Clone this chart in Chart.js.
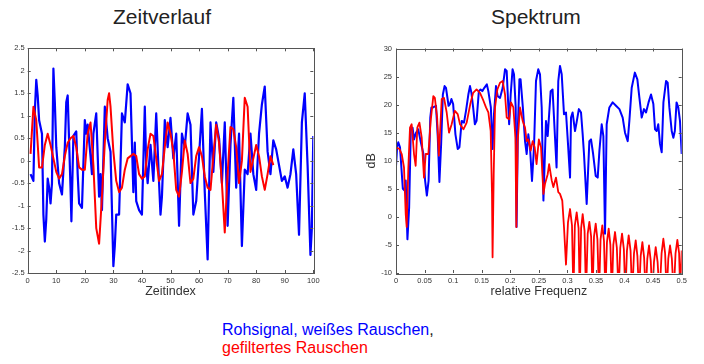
<!DOCTYPE html>
<html lang="de">
<head>
  <meta charset="UTF-8">
  <title>Zeitverlauf und Spektrum</title>
  <script src="https://cdn.jsdelivr.net/npm/chart.js@4"></script>
  <style>
    body { margin: 0; width: 704px; height: 364px; background: #fff; position: relative; overflow: hidden;
           font-family: "Liberation Sans", Arial, sans-serif; }
    .title { position: absolute; font-size: 21px; line-height: 24px; color: #222; white-space: nowrap; }
    #cv1 { position: absolute; left: 0; top: 40px; }
    #cv2 { position: absolute; left: 340px; top: 40px; }
    #caption { position: absolute; left: 222px; top: 321px; font-size: 16px; line-height: 18px; white-space: nowrap; }
    .blue { color: #0000ff; }
    .red { color: #ff0000; }
  </style>
</head>
<body>
  <div class="title" style="left:113px; top:5px;">Zeitverlauf</div>
  <div class="title" style="left:491px; top:5px;">Spektrum</div>
  <canvas id="cv1" width="330" height="270"></canvas>
  <canvas id="cv2" width="364" height="270"></canvas>
  <div id="caption">
    <span class="blue">Rohsignal, weißes Rauschen</span><span style="color:#222">,</span><br>
    <span class="red">gefiltertes Rauschen</span>
  </div>
  <script>
    // Zeitverlauf: [Zeitindex, Wert]
    const timeRaw = [[1,-0.3],[2,-0.45],[2.5,1.1],[3,1.8],[3.5,1.45],[4,0.9],[5,0.6],[5.5,-1.2],[6,-1.8],[6.5,-1.3],
      [7,-0.4],[7.5,-0.6],[8,-0.95],[8.5,-0.5],[9,2.05],[9.5,1.3],[10,0.3],[11,-0.5],[12,-0.75],[13,0.3],
      [13.5,1.3],[14,1.45],[15,-0.6],[15.3,-1.35],[16,0.55],[17,0.65],[17.5,-0.3],[18,-0.95],[19,-1.05],[20,0.9],
      [20.5,0.6],[21,0.8],[22,0.1],[22.5,-0.3],[23,0.6],[24,1.05],[25,-0.8],[25.5,-0.3],[26,-1.1],[27,1.2],
      [28,0.5],[29,0.2],[30,-2.35],[30.5,-1.9],[31,-1.2],[32,-1.2],[33,1.05],[34,0.85],[35,1.7],[36,1.5],
      [37,-0.7],[37.5,0.4],[38,-0.9],[39,-1.1],[40,-1.2],[41,1.2],[41.5,-0.1],[42,-0.5],[43,0.35],[44,-0.45],
      [45,1.05],[46,-0.5],[46.5,-1.2],[47,-0.8],[48,0.9],[49,0.3],[50,0.95],[51,0.05],[52,0.6],[53,-1.45],
      [54,0.6],[55,0.3],[56,1.05],[57,0.8],[58,-1.2],[59,-0.9],[60,0.1],[61,1.15],[62,-0.7],[63,-2.2],
      [64,0.85],[65,-0.25],[66,0.85],[67,0.5],[68,-0.5],[69,0.85],[70,-1.45],[71,0.35],[72,1.4],[73,-0.6],
      [74,0.6],[75,-1.9],[76,-0.2],[77,-0.3],[78,0.6],[79,-0.3],[80,-0.65],[81,0.6],[82,1.25],[83,1.65],
      [84,0.2],[85,-0.3],[86,0.45],[87,0.25],[88,-0.1],[89,-0.45],[90,-0.35],[91,-0.6],[92,-0.3],[93,0.25],
      [94,-0.3],[95,-1.65],[96,0.85],[97,1.5],[98,-0.1],[99,-2.1],[99.5,-1.5],[100,0.55]];
    const timeFilt = [[1,0.15],[2,1.2],[3,0.9],[4,-0.15],[5,-0.15],[6,0.35],[7,0.6],[8,0.35],[9,0.05],[10,-0.25],
      [11,-0.4],[12,-0.3],[13,0.1],[14,0.4],[15,0.5],[16,0.55],[17,0.3],[18,-0.15],[19,-0.2],[20,-0.2],
      [21,0.6],[22,0.85],[23,-0.1],[24,-1.5],[25,-1.85],[26,-0.8],[27,0.4],[28,1.35],[28.5,1.5],[29,1.2],
      [30,0.2],[31,-0.45],[32,-0.7],[33,-0.6],[34,-0.2],[35,0.05],[36,0.1],[37,0.15],[38,0.1],[39,-0.3],
      [40,-0.4],[41,-0.35],[42,0.25],[43,0.6],[44,0.55],[45,0.05],[46,-0.45],[47,-0.3],[48,0.3],[49,0.85],
      [50,0.6],[51,0.2],[52,-0.65],[53,-0.8],[54,-0.25],[55,0.45],[56,0.15],[57,-0.5],[58,-0.4],[59,0.1],
      [60,0.3],[61,0.1],[62,-0.35],[63,-0.6],[64,-0.65],[65,0.1],[66,0.8],[67,0.4],[68,-0.5],[69,-1.6],
      [70,-0.3],[71,0.75],[72,0.7],[73,0.3],[74,-0.5],[75,0.0],[76,1.4],[77,1.2],[78,-0.25],[79,0.05],
      [80,0.35],[81,0.1],[82,-0.35],[83,-0.65],[84,-0.3],[85,0.1],[86,-0.1]];

    // Spektrum: [relative Frequenz, dB]
    const specRaw = [[0,9],[0.002,12.5],[0.004,13.3],[0.007,12.4],[0.012,5],[0.015,4.7],[0.017,6.5],[0.02,-4],
      [0.023,1.7],[0.026,15.9],[0.029,15.9],[0.0315,13.8],[0.035,15],[0.039,15.6],[0.043,13.5],[0.048,11.2],
      [0.051,6.4],[0.054,3.8],[0.057,6.4],[0.06,17.7],[0.062,19.5],[0.065,19.5],[0.07,19.8],[0.073,14.4],
      [0.076,6.2],[0.079,13],[0.082,21.8],[0.085,23.3],[0.0875,23],[0.092,19.8],[0.0945,20.1],[0.097,21],
      [0.1,20.1],[0.104,14.7],[0.108,12.1],[0.111,12.4],[0.115,17.1],[0.119,16.8],[0.1225,18.9],[0.1266,21.8],
      [0.1295,23.3],[0.132,22.1],[0.135,19.5],[0.138,16.5],[0.141,17.1],[0.145,22.4],[0.148,22.7],[0.151,22.4],
      [0.1546,23],[0.159,23.6],[0.1616,22.4],[0.166,19.5],[0.169,12.1],[0.1715,18.3],[0.175,23.3],[0.178,21.5],
      [0.182,21.2],[0.1867,23],[0.1908,26.3],[0.1937,26],[0.198,16.5],[0.2007,21.8],[0.204,26.3],[0.2065,25.4],
      [0.2095,19.5],[0.211,-1.8],[0.2135,16.5],[0.216,24.5],[0.218,24.5],[0.222,19.5],[0.2258,13.5],[0.2287,11.2],
      [0.2316,14.7],[0.2345,12.4],[0.238,6.4],[0.2415,12.4],[0.245,24.2],[0.249,26.3],[0.252,25.4],[0.255,19.5],
      [0.258,2.9],[0.2625,17.1],[0.2655,14.4],[0.2707,22.4],[0.274,22.7],[0.2783,14.1],[0.281,8.8],[0.284,24.2],
      [0.287,26.9],[0.29,25.4],[0.294,18.3],[0.2975,18.6],[0.301,13],[0.3046,7],[0.3063,17.7],[0.309,18.6],
      [0.3133,15.3],[0.316,16.8],[0.32,19.2],[0.3238,18.6],[0.3267,14.7],[0.329,11.2],[0.3337,2.3],[0.3384,13.5],
      [0.3413,13.8],[0.345,11.2],[0.3495,7.3],[0.353,7],[0.356,11.8],[0.36,16.5],[0.3629,14.4],[0.3658,-3],
      [0.3687,16.5],[0.3734,19.5],[0.3792,20.4],[0.385,19.8],[0.391,19.2],[0.3967,17.7],[0.4008,15],[0.4055,13.5],
      [0.4084,17.1],[0.4125,23],[0.418,25.7],[0.4224,24.5],[0.426,21.2],[0.43,17.7],[0.434,19.2],[0.4376,18.6],
      [0.442,20.4],[0.4463,21.8],[0.4504,20.1],[0.4533,15.6],[0.4562,15.3],[0.459,16.5],[0.462,13],[0.465,11.5],
      [0.468,20.4],[0.4726,24.2],[0.4755,23.9],[0.4784,19.5],[0.4825,15.3],[0.4854,14.1],[0.488,15.3],[0.491,20.4],
      [0.494,19.5],[0.497,17.1],[0.5,11.2]];
    const specFilt = [[0,12.4],[0.006,12.1],[0.01,11.2],[0.014,8.8],[0.017,0.5],[0.0187,-1.8],[0.0216,8.8],
      [0.0245,15.9],[0.0274,16.5],[0.0315,11.2],[0.0344,9.1],[0.0373,15.9],[0.041,16.8],[0.045,14.1],[0.049,7],
      [0.052,11.2],[0.0566,11.2],[0.0607,17.1],[0.0653,21.5],[0.068,21.2],[0.072,17.7],[0.075,10.9],[0.08,21],
      [0.084,21.2],[0.0887,18.6],[0.0928,15],[0.0974,16.5],[0.103,18.9],[0.108,18.3],[0.112,16.5],[0.118,15.6],
      [0.1237,16.8],[0.13,20.1],[0.135,22.1],[0.141,22.7],[0.147,22.1],[0.153,20.7],[0.1575,19.5],[0.1616,18.6],
      [0.1657,15.3],[0.168,4.1],[0.169,-7.2],[0.171,7.6],[0.1733,19.5],[0.1774,22.7],[0.182,23.9],[0.1867,24.2],
      [0.1908,21.8],[0.1937,17.7],[0.198,17.4],[0.2013,20.4],[0.2054,19.5],[0.209,14.1],[0.2106,-1.8],[0.213,13.5],
      [0.217,19.5],[0.2217,17.1],[0.2258,15.9],[0.2287,13.5],[0.2316,13.8],[0.2357,11.8],[0.2392,13.5],[0.2427,12.4],
      [0.246,9.4],[0.25,13.8],[0.2538,12.4],[0.258,4.1],[0.2608,5.9],[0.2655,7.6],[0.268,9.4],[0.2725,6.5],
      [0.2754,5.3],[0.28,7],[0.284,4.4],[0.287,4.1],[0.291,2.9],[0.294,-1.8],[0.2975,-8.5],[0.301,-1],
      [0.3046,1.4],[0.308,-1.5],[0.3105,-14],[0.313,-1.5],[0.3162,0.8],[0.3195,-2],[0.3215,-14],[0.324,-2],
      [0.3267,0.5],[0.33,-2.5],[0.3325,-14],[0.3355,-3],[0.3384,-0.9],[0.3415,-3.5],[0.344,-14],[0.3465,-3.5],
      [0.3495,-1.2],[0.3525,-4],[0.3553,-14],[0.358,-4],[0.3611,-1.5],[0.364,-4.3],[0.3665,-14],[0.3692,-4.5],
      [0.3722,-2.1],[0.3752,-5],[0.3778,-14],[0.3803,-5],[0.3833,-2.7],[0.3865,-5.5],[0.3895,-14],[0.3925,-5.5],
      [0.3956,-3],[0.3988,-5.8],[0.4014,-14],[0.4042,-6],[0.4072,-3.3],[0.4105,-6],[0.4133,-14],[0.4165,-6.5],
      [0.4195,-4.2],[0.4225,-7],[0.4253,-14],[0.4282,-7],[0.4312,-4.5],[0.4342,-7.2],[0.437,-14],[0.4398,-7.5],
      [0.4428,-5.1],[0.4458,-7.8],[0.4486,-14],[0.4515,-8],[0.4545,-5.4],[0.4578,-8],[0.4612,-14],[0.4648,-6.5],
      [0.4679,-3.9],[0.471,-6.5],[0.4737,-14],[0.4765,-7.5],[0.4796,-5.1],[0.4828,-7.5],[0.486,-14],[0.4892,-6.5],
      [0.4924,-4.1],[0.4955,-6.5],[0.4975,-14],[0.5,-6]];

    const BLUE = '#0000ff', RED = '#ff0000';
    const FONT = '"Liberation Sans", Arial, sans-serif';

    const toXY = arr => arr.map(p => ({ x: p[0], y: p[1] }));
    const fmt = v => String(Math.round(v * 1000) / 1000);

    // MATLAB-like box with inward tick marks
    const boxPlugin = {
      id: 'box',
      afterDraw(chart) {
        const { ctx, chartArea: a, scales } = chart;
        ctx.save();
        ctx.strokeStyle = '#555';
        ctx.lineWidth = 1;
        ctx.strokeRect(Math.round(a.left) + 0.5, Math.round(a.top) + 0.5,
          Math.round(a.right - a.left), Math.round(a.bottom - a.top));
        ctx.beginPath();
        scales.x.ticks.forEach(t => {
          const x = Math.round(scales.x.getPixelForValue(t.value)) + 0.5;
          ctx.moveTo(x, a.bottom); ctx.lineTo(x, a.bottom - 3);
          ctx.moveTo(x, a.top); ctx.lineTo(x, a.top + 3);
        });
        scales.y.ticks.forEach(t => {
          const y = Math.round(scales.y.getPixelForValue(t.value)) + 0.5;
          ctx.moveTo(a.left, y); ctx.lineTo(a.left + 3, y);
          ctx.moveTo(a.right, y); ctx.lineTo(a.right - 3, y);
        });
        ctx.stroke();
        ctx.restore();
      }
    };

    function makeChart(id, datasets, xs, ys, pad, yWidth) {
      return new Chart(document.getElementById(id), {
        type: 'line',
        data: { datasets },
        plugins: [boxPlugin],
        options: {
          responsive: false,
          animation: false,
          layout: { padding: pad },
          plugins: { legend: { display: false }, tooltip: { enabled: false } },
          elements: { point: { radius: 0 }, line: { tension: 0, borderJoinStyle: 'round' } },
          scales: {
            x: Object.assign({
              type: 'linear',
              grid: { display: false, drawTicks: false },
              border: { display: false },
              ticks: { color: '#333', font: { family: FONT, size: 7.5 }, padding: 3, maxRotation: 0, callback: fmt },
              afterFit: s => { s.height = 37; }
            }, xs),
            y: Object.assign({
              type: 'linear',
              grid: { display: false, drawTicks: false },
              border: { display: false },
              ticks: { color: '#333', font: { family: FONT, size: 7.5 }, padding: 3, callback: fmt },
              afterFit: s => { s.width = yWidth; }
            }, ys)
          }
        }
      });
    }

    makeChart('cv1', [
      { data: toXY(timeFilt), borderColor: RED, borderWidth: 2 },
      { data: toXY(timeRaw), borderColor: BLUE, borderWidth: 2.2 }
    ], {
      min: 0, max: 100,
      ticks: { color: '#333', font: { family: FONT, size: 7.5 }, padding: 3, maxRotation: 0, stepSize: 10, callback: fmt },
      title: { display: true, text: 'Zeitindex', color: '#333', font: { family: FONT, size: 12.5 }, padding: { top: 0, bottom: 10.5 } }
    }, {
      min: -2.5, max: 2.5,
      ticks: { color: '#333', font: { family: FONT, size: 7.5 }, padding: 3, stepSize: 0.5, callback: fmt }
    }, { top: 8.3, right: 16.7, left: 0, bottom: 0 }, 27.7);

    makeChart('cv2', [
      { data: toXY(specFilt), borderColor: RED, borderWidth: 1.8 },
      { data: toXY(specRaw), borderColor: BLUE, borderWidth: 2 }
    ], {
      min: 0, max: 0.5,
      ticks: { color: '#333', font: { family: FONT, size: 7.5 }, padding: 3, maxRotation: 0, stepSize: 0.05, callback: fmt },
      title: { display: true, text: 'relative Frequenz', color: '#333', font: { family: FONT, size: 12.5 }, padding: { top: 0, bottom: 10.5 } }
    }, {
      min: -10, max: 30,
      ticks: { color: '#333', font: { family: FONT, size: 7.5 }, padding: 4, stepSize: 5, callback: fmt },
      title: { display: true, text: 'dB', color: '#333', font: { family: FONT, size: 12.5 }, padding: { top: 24.5, bottom: 0 } }
    }, { top: 7.3, right: 22.3, left: 0, bottom: 0 }, 56);
  </script>
</body>
</html>
